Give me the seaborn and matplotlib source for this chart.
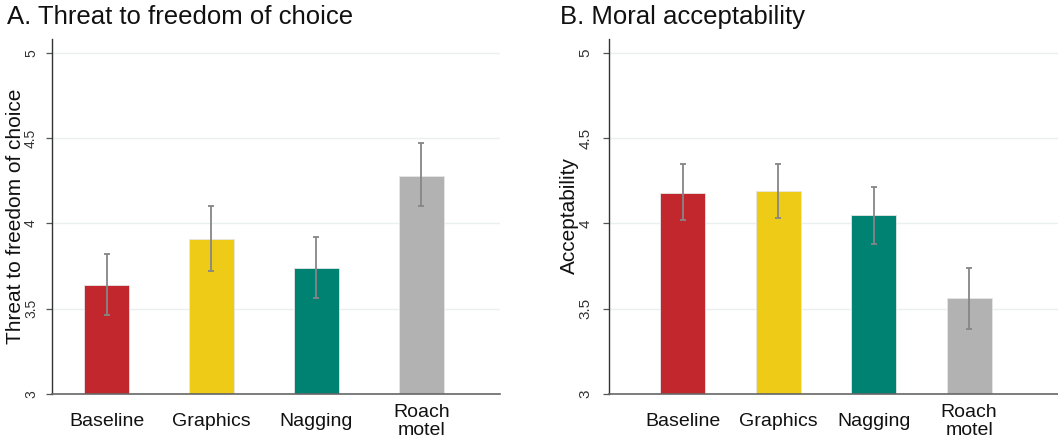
import matplotlib
matplotlib.use("Agg")
import matplotlib.pyplot as plt
import seaborn as sns
import pandas as pd

# data
groups = ["Baseline", "Graphics", "Nagging", "Roach\nmotel"]
colors = ["#C1272D", "#EDCB16", "#008272", "#B2B2B2"]

threat_mean = [3.64, 3.91, 3.74, 4.28]
threat_lo = [3.46, 3.72, 3.56, 4.10]
threat_hi = [3.82, 4.10, 3.92, 4.47]

accept_mean = [4.18, 4.19, 4.05, 3.56]
accept_lo = [4.02, 4.03, 3.88, 3.38]
accept_hi = [4.35, 4.35, 4.21, 3.74]

yticks = [3, 3.5, 4, 4.5, 5]
ytick_labels = ["3", "3.5", "4", "4.5", "5"]

sns.set_theme(style="white")
plt.rcParams["font.family"] = ["Liberation Sans", "DejaVu Sans"]

W, H = 1058, 444
fig = plt.figure(figsize=(W / 100, H / 100), dpi=100)


def px_box(x0, x1, ytop, ybot):
    return [x0 / W, 1 - ybot / H, (x1 - x0) / W, (ybot - ytop) / H]


def draw_panel(ax, means, lo, hi, width, xlim, tick_size, tick_pad):
    df = pd.DataFrame({"group": groups, "value": means})
    sns.barplot(data=df, x="group", y="value", hue="group", palette=colors,
                width=width, legend=False, ax=ax, saturation=1,
                edgecolor="#e6e6e6", linewidth=0.6)
    # error bars
    err = [[m - l for m, l in zip(means, lo)], [h - m for m, h in zip(means, hi)]]
    ax.errorbar(range(len(groups)), means, yerr=err, fmt="none",
                ecolor="#868686", elinewidth=1.3, capsize=2.5, capthick=1.3)
    ax.set_ylim(3, 5.08)
    ax.set_xlim(*xlim)
    ax.set_yticks(yticks)
    ax.set_yticklabels(ytick_labels, fontsize=tick_size, color="#333333")
    for y in yticks[1:]:
        ax.axhline(y, color="#EAF0F0", lw=1, zorder=0)
    ax.tick_params(axis="y", left=True, length=4, width=0.9, color="#555555",
                   labelrotation=90, pad=tick_pad)
    for t in ax.get_yticklabels():
        t.set_va("center")
        t.set_ha("right")
    ax.tick_params(axis="x", length=0, pad=20, labelsize=14, labelcolor="#111111")
    for t in ax.get_xticklabels():
        t.set_va("center")
        t.set_linespacing(1.1)
    ax.set_xlabel("")
    ax.set_ylabel("")
    sns.despine(ax=ax)
    ax.spines["left"].set_color("#333333")
    ax.spines["left"].set_linewidth(1)
    ax.spines["bottom"].set_color("#666666")
    ax.spines["bottom"].set_linewidth(1.2)


ax1 = fig.add_axes(px_box(52, 500, 39, 394))
draw_panel(ax1, threat_mean, threat_lo, threat_hi, 0.43, (-0.52, 3.75), 10, 6)

ax2 = fig.add_axes(px_box(609, 1058, 39, 394))
draw_panel(ax2, accept_mean, accept_lo, accept_hi, 0.47, (-0.77, 3.93), 11, 8)

fig.text(7 / W, 1 - 17 / H, "A. Threat to freedom of choice", fontsize=18.5,
         ha="left", va="center", color="#111111")
fig.text(560 / W, 1 - 17 / H, "B. Moral acceptability", fontsize=18.5,
         ha="left", va="center", color="#111111")
fig.text(16 / W, 1 - 216 / H, "Threat to freedom of choice", fontsize=15,
         rotation=90, ha="center", va="center", color="#111111")
fig.text(569 / W, 1 - 216 / H, "Acceptability", fontsize=15,
         rotation=90, ha="center", va="center", color="#111111")

fig.savefig("out.png", dpi=100)
